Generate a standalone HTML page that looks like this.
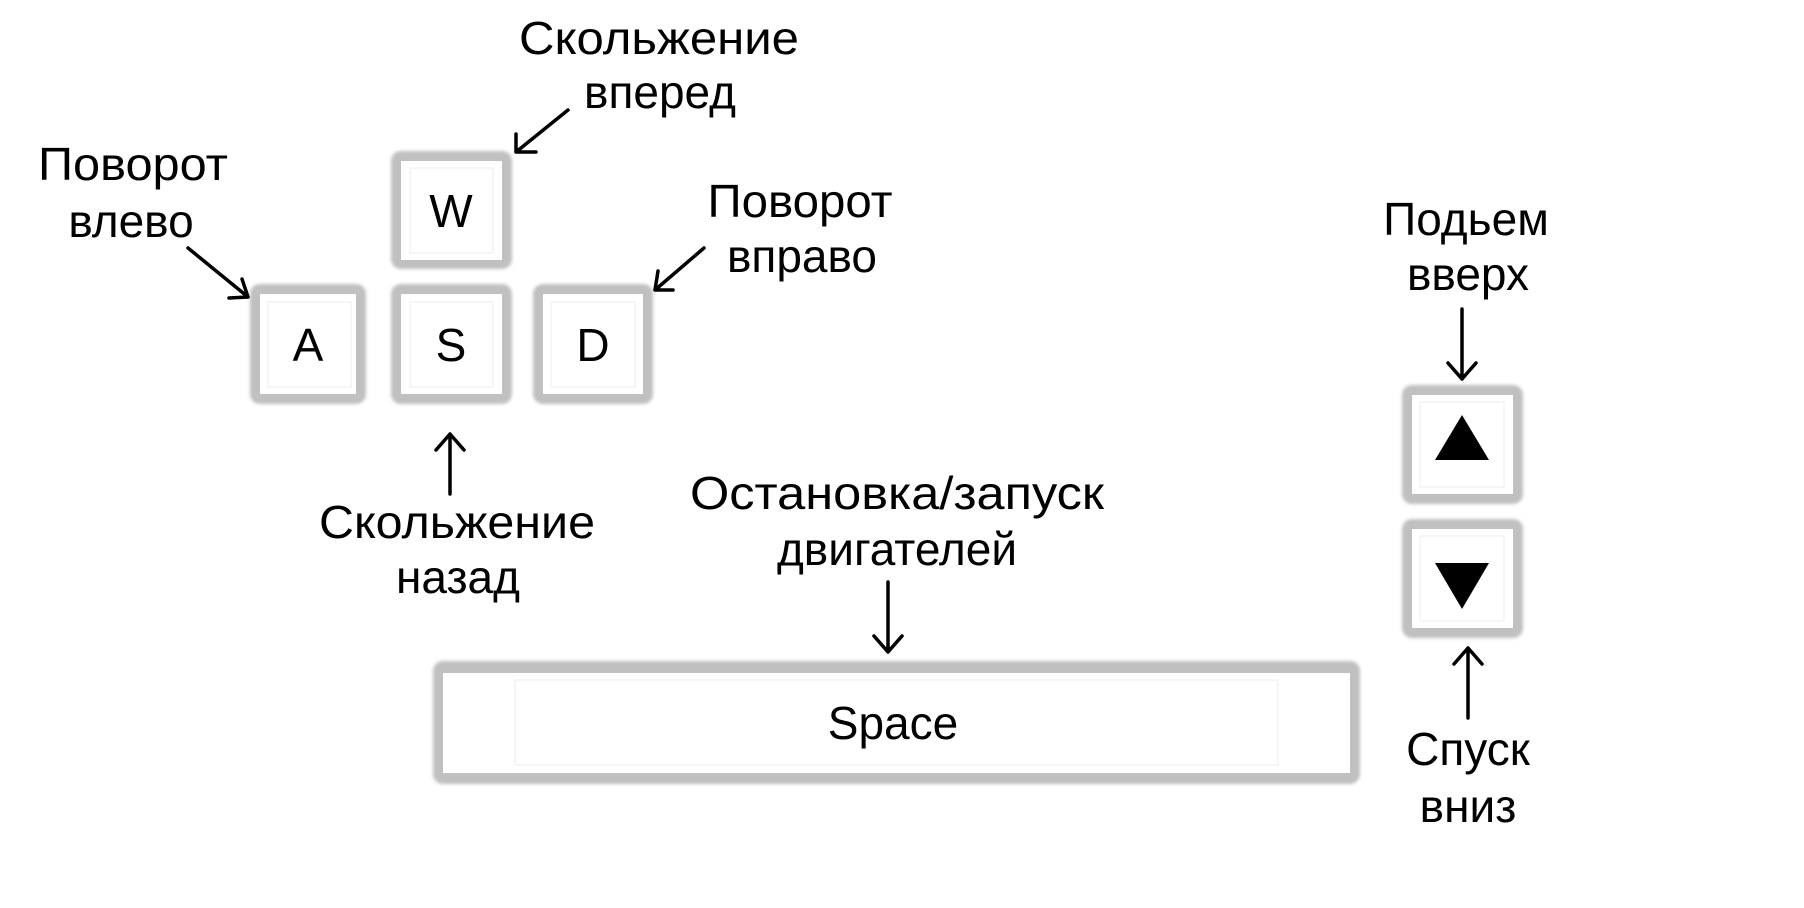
<!DOCTYPE html>
<html><head><meta charset="utf-8"><style>
html,body{margin:0;padding:0;background:#fff;width:1804px;height:908px;overflow:hidden}
text{font-family:"Liberation Sans",sans-serif;fill:#000;font-size:46px}
</style></head><body>
<svg width="1804" height="908" viewBox="0 0 1804 908" xmlns="http://www.w3.org/2000/svg">
<defs>
<filter id="b" x="-10%" y="-10%" width="120%" height="120%"><feGaussianBlur stdDeviation="1.5"/></filter>
</defs>
<g id="keys">
<rect x="391" y="151" width="121" height="118" rx="10" fill="#c0c0c0" filter="url(#b)"/>
<rect x="401" y="161" width="101" height="99" fill="#fff"/>
<rect x="410" y="168" width="83" height="85" fill="none" stroke="#eee" stroke-width="1"/>
<rect x="250" y="284" width="116" height="120" rx="10" fill="#c0c0c0" filter="url(#b)"/>
<rect x="260" y="294" width="96" height="100" fill="#fff"/>
<rect x="268" y="302" width="83" height="85" fill="none" stroke="#eee"/>
<rect x="391" y="284" width="121" height="120" rx="10" fill="#c0c0c0" filter="url(#b)"/>
<rect x="401" y="294" width="101" height="100" fill="#fff"/>
<rect x="410" y="302" width="83" height="85" fill="none" stroke="#eee"/>
<rect x="533" y="284" width="120" height="120" rx="10" fill="#c0c0c0" filter="url(#b)"/>
<rect x="543" y="294" width="100" height="100" fill="#fff"/>
<rect x="551" y="302" width="84" height="85" fill="none" stroke="#eee"/>
<rect x="433" y="661" width="927" height="123" rx="10" fill="#c0c0c0" filter="url(#b)"/>
<rect x="443" y="673" width="907" height="100" fill="#fff"/>
<rect x="515" y="680" width="763" height="85" fill="none" stroke="#eee"/>
<rect x="1402" y="385" width="121" height="119" rx="10" fill="#c0c0c0" filter="url(#b)"/>
<rect x="1412" y="395" width="101" height="99" fill="#fff"/>
<rect x="1420" y="402" width="84" height="85" fill="none" stroke="#eee"/>
<polygon points="1462,415 1435,460 1489,460" fill="#000"/>
<rect x="1402" y="519" width="121" height="119" rx="10" fill="#c0c0c0" filter="url(#b)"/>
<rect x="1412" y="529" width="101" height="99" fill="#fff"/>
<rect x="1420" y="536" width="84" height="85" fill="none" stroke="#eee"/>
<polygon points="1435,563 1489,563 1462,609" fill="#000"/>
</g>
<g text-anchor="middle">
<text x="451" y="227">W</text>
<text x="308" y="361">A</text>
<text x="451" y="361">S</text>
<text x="593" y="361">D</text>
<text x="893" y="739">Space</text>
</g>
<g text-anchor="middle">
<text x="659" y="54" textLength="280" lengthAdjust="spacingAndGlyphs">Скольжение</text>
<text x="660" y="108">вперед</text>
<text x="133" y="180" textLength="190" lengthAdjust="spacingAndGlyphs">Поворот</text>
<text x="131" y="237">влево</text>
<text x="800" y="217" textLength="185" lengthAdjust="spacingAndGlyphs">Поворот</text>
<text x="802" y="272">вправо</text>
<text x="457" y="538" textLength="276" lengthAdjust="spacingAndGlyphs">Скольжение</text>
<text x="458" y="593">назад</text>
<text x="897" y="509" textLength="414" lengthAdjust="spacingAndGlyphs">Остановка/запуск</text>
<text x="897" y="565">двигателей</text>
<text x="1466" y="235">Подьем</text>
<text x="1468" y="290">вверх</text>
<text x="1468" y="765">Спуск</text>
<text x="1468" y="822">вниз</text>
</g>
<g stroke="#000" stroke-width="3.5" fill="none" stroke-linecap="round" stroke-linejoin="round">
<path d="M568,110 L516,152 M516,134 L516,152 L536,152"/>
<path d="M188,248 L248,297 M242,279 L248,297 L229,298"/>
<path d="M704,248 L655,290 M658,271 L655,290 L673,290"/>
<path d="M450,494 L450,434 M436,450 L450,434 L464,450"/>
<path d="M888,582 L888,652 M874,636 L888,652 L902,636"/>
<path d="M1462,309 L1462,379 M1448,363 L1462,379 L1476,363"/>
<path d="M1468,718 L1468,648 M1454,664 L1468,648 L1482,664"/>
</g>
</svg>
</body></html>
